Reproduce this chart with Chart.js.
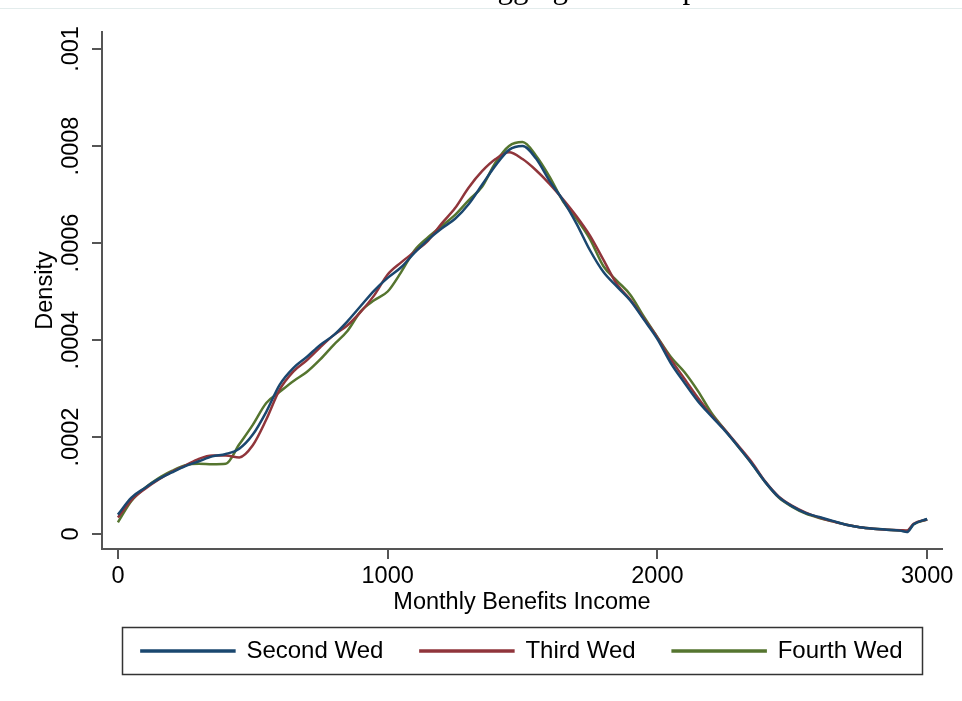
<!DOCTYPE html>
<html>
<head>
<meta charset="utf-8">
<style>
  html, body { margin: 0; padding: 0; background: #ffffff; }
  #wrap { width: 962px; height: 701px; }
</style>
<script src="https://cdn.jsdelivr.net/npm/chart.js@4/dist/chart.umd.min.js"></script>
</head>
<body>
<div id="wrap"><canvas id="c" width="962" height="701"></canvas></div>
<script>
// ---- data ----
const titleText = "Panel B: Pooled Aggregated Sample";
const xLabel = "Monthly Benefits Income";
const yLabel = "Density";
const seriesNames = ["Second Wed", "Third Wed", "Fourth Wed"];
const xTicks = [0, 1000, 2000, 3000];
const yTicks = [0, 0.0002, 0.0004, 0.0006, 0.0008, 0.001];
const yTickLabels = ["0", ".0002", ".0004", ".0006", ".0008", ".001"];

const incomeGrid = [0, 50, 100, 150, 200, 250, 300, 350, 400, 450, 500, 550, 600, 650, 700, 750, 800, 850, 900, 950,
  1000, 1050, 1100, 1150, 1200, 1250, 1300, 1350, 1400, 1450, 1500, 1550, 1600, 1650, 1700, 1750, 1800, 1850, 1900, 1950,
  2000, 2050, 2100, 2150, 2200, 2250, 2300, 2350, 2400, 2450, 2500, 2550, 2600, 2650, 2700, 2750, 2800, 2850, 2900, 2925, 2950, 3000];

const secondWed = [0.000040, 0.000075, 0.000095, 0.000113, 0.000127, 0.000140, 0.000150, 0.000160, 0.000165, 0.000176,
  0.000205, 0.000252, 0.000308, 0.000342, 0.000365, 0.000390, 0.000410, 0.000438, 0.000470, 0.000502,
  0.000528, 0.000550, 0.000580, 0.000607, 0.000630, 0.000650, 0.000680, 0.000720, 0.000760, 0.000792,
  0.000800, 0.000774, 0.000728, 0.000688, 0.000640, 0.000585, 0.000540, 0.000510, 0.000481, 0.000442,
  0.000402, 0.000352, 0.000312, 0.000274, 0.000243, 0.000213, 0.000180, 0.000145, 0.000107, 0.000076,
  0.000057, 0.000043, 0.000035, 0.000027, 0.000019, 0.000014, 0.000011, 0.000009, 0.000007, 0.000004, 0.000020, 0.000031];

const thirdWed = [0.000034, 0.000070, 0.000093, 0.000112, 0.000128, 0.000141, 0.000155, 0.000162, 0.000162, 0.000158,
  0.000183, 0.000236, 0.000298, 0.000335, 0.000358, 0.000385, 0.000410, 0.000430, 0.000458, 0.000492,
  0.000535, 0.000560, 0.000582, 0.000605, 0.000640, 0.000672, 0.000714, 0.000748, 0.000773, 0.000787,
  0.000773, 0.000750, 0.000722, 0.000690, 0.000655, 0.000615, 0.000565, 0.000515, 0.000483, 0.000444,
  0.000405, 0.000360, 0.000320, 0.000281, 0.000245, 0.000215, 0.000182, 0.000148, 0.000108, 0.000077,
  0.000058, 0.000044, 0.000034, 0.000026, 0.000019, 0.000014, 0.000011, 0.000009, 0.000008, 0.000007, 0.000021, 0.000030];

const fourthWed = [0.000024, 0.000068, 0.000095, 0.000115, 0.000130, 0.000142, 0.000145, 0.000144, 0.000145, 0.000185,
  0.000225, 0.000270, 0.000293, 0.000315, 0.000334, 0.000360, 0.000390, 0.000418, 0.000459, 0.000482,
  0.000500, 0.000540, 0.000585, 0.000612, 0.000635, 0.000658, 0.000688, 0.000716, 0.000766, 0.000800,
  0.000808, 0.000780, 0.000737, 0.000686, 0.000650, 0.000608, 0.000552, 0.000522, 0.000493, 0.000448,
  0.000406, 0.000365, 0.000334, 0.000295, 0.000250, 0.000215, 0.000180, 0.000145, 0.000107, 0.000075,
  0.000056, 0.000042, 0.000033, 0.000026, 0.000019, 0.000014, 0.000011, 0.000009, 0.000007, 0.000006, 0.000020, 0.000030];

const seriesColors = ["#1a476f", "#90353b", "#55752f"];

// ---- build chart ----
const allSeries = [secondWed, thirdWed, fourthWed];
const datasets = allSeries.map((vals, i) => ({
  label: seriesNames[i],
  data: incomeGrid.map((x, j) => ({ x: x, y: vals[j] })),
  borderColor: seriesColors[i],
  backgroundColor: seriesColors[i],
  borderWidth: 2.5,
  pointRadius: 0,
  fill: false,
  cubicInterpolationMode: 'monotone'
}));

const axisColor = '#555555';
const fontFam = "'Liberation Sans', Arial, sans-serif";

const decorPlugin = {
  id: 'decor',
  beforeDraw(chart) {
    const ctx = chart.ctx;
    ctx.save();
    ctx.fillStyle = '#ffffff';
    ctx.fillRect(0, 0, chart.width, chart.height);
    ctx.restore();
  },
  afterDraw(chart) {
    const ctx = chart.ctx;
    ctx.save();
    // clipped title at very top
    ctx.font = "31px 'Liberation Serif', 'Times New Roman', serif";
    ctx.fillStyle = '#000000';
    ctx.textAlign = 'center';
    ctx.textBaseline = 'alphabetic';
    ctx.fillText(titleText, 494, -2.5);
    ctx.strokeStyle = '#e3ecec';
    ctx.lineWidth = 1;
    ctx.beginPath();
    ctx.moveTo(0, 8.5);
    ctx.lineTo(chart.width, 8.5);
    ctx.stroke();
    // legend frame
    const lg = chart.legend;
    if (lg && lg.legendHitBoxes && lg.legendHitBoxes.length) {
      const hb = lg.legendHitBoxes;
      const first = hb[0];
      const cy = first.top + first.height / 2;
      const cx = (chart.chartArea.left + chart.chartArea.right) / 2;
      ctx.strokeStyle = '#333333';
      ctx.lineWidth = 1.5;
      ctx.strokeRect(Math.round(cx - 400) + 0.5, Math.round(cy - 24) + 0.5, 800, 47);
    }
    ctx.restore();
  }
};

new Chart(document.getElementById('c'), {
  type: 'line',
  data: { datasets: datasets },
  plugins: [decorPlugin],
  options: {
    responsive: false,
    animation: false,
    devicePixelRatio: 1,
    layout: { padding: { top: 32, right: 20, left: 0, bottom: 28 } },
    plugins: {
      title: { display: false },
      tooltip: { enabled: false },
      legend: {
        display: true,
        position: 'bottom',
        fullSize: false,
        labels: {
          boxWidth: 93,
          boxHeight: 1,
          padding: 37,
          color: '#000000',
          font: { family: fontFam, size: 24 }
        }
      }
    },
    scales: {
      x: {
        type: 'linear',
        min: -59,
        max: 3055,
        afterBuildTicks: (s) => { s.ticks = xTicks.map(v => ({ value: v })); },
        afterFit: (s) => { s.height = 53; },
        ticks: {
          color: '#000000',
          font: { family: fontFam, size: 23.5 },
          padding: 3,
          maxRotation: 0,
          callback: (v) => String(v)
        },
        grid: { drawOnChartArea: false, drawTicks: true, tickLength: 10, color: axisColor, lineWidth: 2 },
        border: { display: true, color: axisColor, width: 2 },
        title: {
          display: true,
          text: xLabel,
          color: '#000000',
          font: { family: fontFam, size: 23.5 },
          padding: { top: 0, bottom: -15 }
        }
      },
      y: {
        type: 'linear',
        min: -0.0000309,
        max: 0.001035,
        afterBuildTicks: (s) => { s.ticks = yTicks.map(v => ({ value: v })); },
        afterFit: (s) => { s.width = 102; },
        ticks: {
          color: '#000000',
          font: { family: fontFam, size: 23.5 },
          minRotation: 90,
          maxRotation: 90,
          crossAlign: 'center',
          padding: -9,
          callback: (v) => {
            const k = yTicks.findIndex(t => Math.abs(t - v) < 1e-9);
            return k >= 0 ? yTickLabels[k] : '';
          }
        },
        grid: { drawOnChartArea: false, drawTicks: true, tickLength: 10, color: axisColor, lineWidth: 2 },
        border: { display: true, color: axisColor, width: 2 },
        title: {
          display: true,
          text: yLabel,
          color: '#000000',
          font: { family: fontFam, size: 23.5 },
          padding: { top: 31, bottom: 0 }
        }
      }
    }
  }
});
</script>
</body>
</html>
